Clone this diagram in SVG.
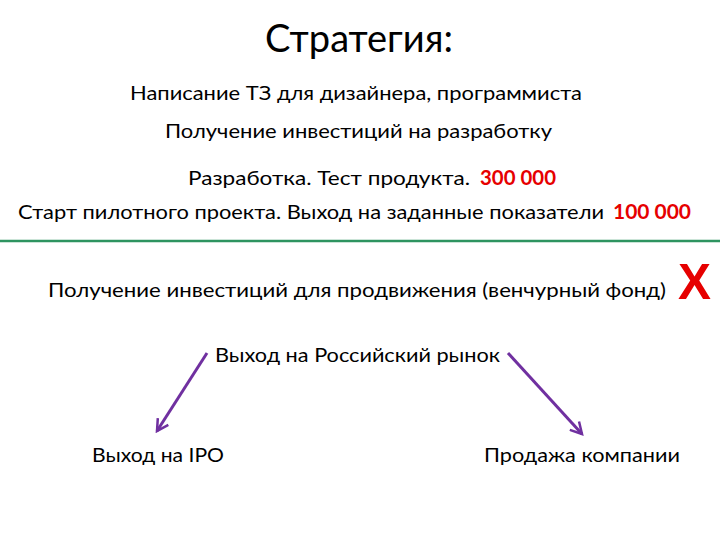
<svg xmlns="http://www.w3.org/2000/svg" width="720" height="540" viewBox="0 0 720 540">
<defs>
<style>
text{font-family:"Lato","Liberation Sans",sans-serif;fill:#000;}
.t{font-size:20px;}
.r{fill:#e60000;font-weight:bold;font-size:20px;}
.c{stroke:#7030a0;stroke-width:3;fill:none;}
</style>
<marker id="a" viewBox="0 0 12 12" refX="10" refY="6" markerWidth="5" markerHeight="5" orient="auto" markerUnits="strokeWidth">
<path d="M1,1 L10,6 L1,11" fill="none" stroke="#7030a0" stroke-width="2"/>
</marker>
</defs>
<rect width="720" height="540" fill="#fff"/>
<g id="title"><text x="359" y="52" font-size="38" text-anchor="middle" textLength="188" lengthAdjust="spacingAndGlyphs">Стратегия:</text></g>
<g id="n1"><text class="t" x="130" y="100" textLength="452" lengthAdjust="spacingAndGlyphs">Написание ТЗ для дизайнера, программиста</text></g>
<g id="n2"><text class="t" x="165" y="138" textLength="387" lengthAdjust="spacingAndGlyphs">Получение инвестиций на разработку</text></g>
<g id="n3"><text class="t" x="188" y="185" textLength="282" lengthAdjust="spacingAndGlyphs">Разработка. Тест продукта.</text><text class="r" x="480" y="185" textLength="76" lengthAdjust="spacingAndGlyphs">300 000</text></g>
<g id="n4"><text class="t" x="18" y="219" textLength="586" lengthAdjust="spacingAndGlyphs">Старт пилотного проекта. Выход на заданные показатели</text><text class="r" x="613" y="219" textLength="78" lengthAdjust="spacingAndGlyphs">100 000</text></g>
<g id="divider"><line x1="0" y1="241" x2="720" y2="241" stroke="#2e9460" stroke-width="2.5"/></g>
<g id="n5"><text class="t" x="48" y="297" textLength="618" lengthAdjust="spacingAndGlyphs">Получение инвестиций для продвижения (венчурный фонд)</text><text x="678" y="299" font-weight="bold" font-size="50" style="fill:#e60000;font-family:'Liberation Sans',sans-serif" textLength="33" lengthAdjust="spacingAndGlyphs">X</text></g>
<g id="n6"><text class="t" x="215" y="362" textLength="285" lengthAdjust="spacingAndGlyphs">Выход на Российский рынок</text></g>
<g id="n7"><text class="t" x="92" y="462" textLength="132" lengthAdjust="spacingAndGlyphs">Выход на IPO</text></g>
<g id="n8"><text class="t" x="484" y="462" textLength="196" lengthAdjust="spacingAndGlyphs">Продажа компании</text></g>
<g id="connectors">
<line class="c" x1="207" y1="353" x2="157" y2="431" marker-end="url(#a)"/>
<line class="c" x1="508" y1="353" x2="582" y2="434" marker-end="url(#a)"/>
</g>
</svg>
